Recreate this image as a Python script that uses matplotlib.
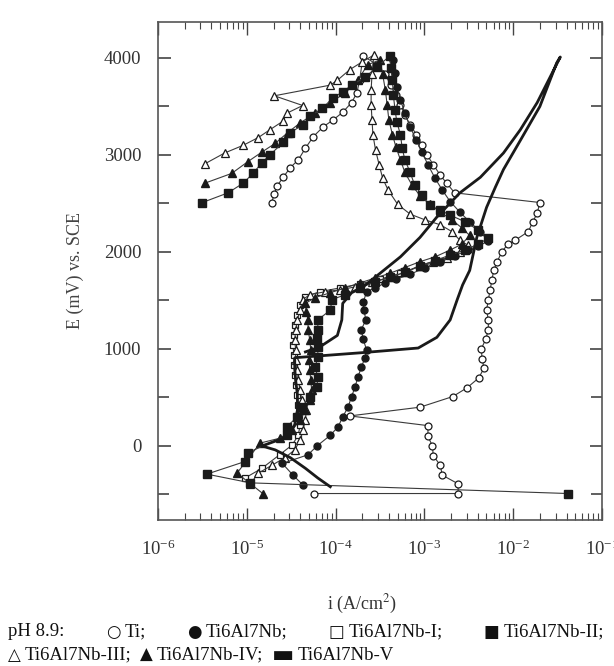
import matplotlib
matplotlib.use("Agg")
import matplotlib.pyplot as plt
import numpy as np
from matplotlib.ticker import MultipleLocator, LogLocator, LogFormatterSciNotation, NullFormatter

plt.rcParams['font.family'] = ['Liberation Serif', 'DejaVu Sans']
plt.rcParams['mathtext.fontset'] = 'stix'

# log10(i / A cm^-2) and E (mV vs SCE)
ti_logi = [-4.24, -2.62, -2.62, -2.80, -2.82, -2.90, -2.91, -2.96, -2.96, -3.84, -3.05,
           -2.68, -2.52, -2.39, -2.33, -2.35, -2.36, -2.31, -2.28, -2.28, -2.30, -2.28,
           -2.26, -2.24, -2.22, -2.18, -2.13, -2.06, -1.98, -1.83, -1.78, -1.73, -1.70,
           -2.66, -2.75, -2.82, -2.90, -2.97, -3.03, -3.09, -3.16, -3.22, -3.27, -3.32,
           -3.38, -3.44, -3.53, -3.69, -3.73, -3.76, -3.82, -3.92, -4.03, -4.14, -4.25,
           -4.34, -4.42, -4.51, -4.59, -4.66, -4.69, -4.72]
ti_E = [-490, -490, -390, -300, -200, -100, 0, 100, 210, 310, 400,
        510, 600, 700, 800, 900, 1000, 1100, 1200, 1300, 1400, 1510,
        1610, 1710, 1810, 1900, 2000, 2080, 2120, 2210, 2310, 2400, 2510,
        2610, 2710, 2790, 2900, 3000, 3100, 3210, 3310, 3410, 3520, 3620,
        3720, 3830, 3930, 4020, 3770, 3640, 3540, 3440, 3360, 3290, 3190,
        3070, 2950, 2870, 2770, 2680, 2600, 2510]

nb_logi = [-4.37, -4.48, -4.60, -4.31, -4.21, -4.06, -3.97, -3.92, -3.86, -3.82, -3.78,
           -3.75, -3.71, -3.67, -3.65, -3.69, -3.71, -3.66, -3.68, -3.69, -3.65, -3.56,
           -3.44, -3.32, -3.16, -2.99, -2.82, -2.66, -2.51, -2.40, -2.28, -2.37, -2.49,
           -2.60, -2.71, -2.80, -2.88, -2.96, -3.03, -3.09, -3.16, -3.22, -3.27, -3.31,
           -3.33, -3.35]
nb_E = [-400, -300, -180, -90, 0, 110, 200, 300, 400, 510, 610,
        710, 810, 910, 990, 1100, 1200, 1300, 1400, 1480, 1590, 1630,
        1680, 1720, 1770, 1840, 1900, 1960, 2020, 2060, 2110, 2210, 2310,
        2410, 2520, 2640, 2760, 2900, 3030, 3150, 3290, 3430, 3570, 3700,
        3850, 3980]

nb1_logi = [-5.02, -4.83, -4.63, -4.49, -4.42, -4.40, -4.41, -4.42, -4.43, -4.45, -4.46,
            -4.47, -4.47, -4.48, -4.47, -4.46, -4.43, -4.40, -4.34, -4.18, -3.95, -3.73,
            -3.50, -3.27, -3.05, -2.82, -2.66, -2.54]
nb1_E = [-330, -230, -90, 10, 110, 220, 320, 420, 530, 630, 730,
         840, 940, 1040, 1140, 1250, 1350, 1450, 1540, 1590, 1630, 1670,
         1720, 1780, 1850, 1910, 1970, 2040]

nb2_logi = [-1.38, -4.96, -5.45, -5.02, -4.99, -4.55, -4.55, -4.43, -4.38, -4.29, -4.21,
            -4.20, -4.23, -4.20, -4.20, -4.21, -4.20, -4.20, -4.06, -4.04, -3.89, -3.73,
            -3.56, -3.39, -3.22, -3.05, -2.88, -2.71, -2.54, -2.40, -2.28, -2.40, -2.54,
            -2.71, -2.82, -2.94, -3.03, -3.11, -3.16, -3.22, -3.25, -3.27, -3.31, -3.33,
            -3.35, -3.36, -3.38, -3.39, -3.53, -3.67, -3.82, -3.92, -4.03, -4.15, -4.29,
            -4.37, -4.51, -4.59, -4.74, -4.83, -4.93, -5.04, -5.21, -5.50]
nb2_E = [-490, -380, -290, -160, -70, 110, 200, 300, 400, 510, 610,
         710, 810, 920, 1020, 1110, 1200, 1300, 1400, 1510, 1560, 1630,
         1690, 1740, 1790, 1860, 1910, 1970, 2020, 2080, 2140, 2230, 2310,
         2380, 2430, 2480, 2590, 2690, 2820, 2950, 3070, 3210, 3340, 3460,
         3620, 3770, 3900, 4020, 3910, 3800, 3720, 3650, 3590, 3480, 3400,
         3310, 3230, 3130, 3000, 2920, 2810, 2710, 2610, 2510]

nb3_logi = [-4.96, -4.87, -4.72, -4.57, -4.46, -4.40, -4.37, -4.34, -4.33, -4.38, -4.40,
            -4.42, -4.43, -4.45, -4.45, -4.46, -4.45, -4.43, -4.40, -4.37, -4.29, -4.12,
            -3.95, -3.78, -3.59, -3.39, -3.22, -3.05, -2.90, -2.75, -2.60, -2.51, -2.60,
            -2.69, -2.82, -2.99, -3.16, -3.30, -3.41, -3.47, -3.51, -3.55, -3.58, -3.59,
            -3.60, -3.60, -3.59, -3.57, -3.70, -3.84, -3.98, -4.06, -4.69, -4.37, -4.55,
            -4.59, -4.74, -4.87, -5.04, -5.25, -5.47]
nb3_E = [-390, -280, -200, -120, -40, 60, 160, 270, 370, 470, 580,
         680, 780, 890, 990, 1090, 1200, 1300, 1400, 1510, 1560, 1590,
         1610, 1640, 1690, 1740, 1790, 1860, 1900, 1940, 2000, 2070, 2120,
         2210, 2280, 2330, 2390, 2490, 2640, 2760, 2900, 3050, 3210, 3360,
         3520, 3670, 3830, 4030, 3960, 3880, 3770, 3720, 3610, 3510, 3430,
         3350, 3260, 3180, 3100, 3020, 2910]

nb4_logi = [-4.82, -5.11, -4.85, -4.63, -4.49, -4.40, -4.34, -4.29, -4.27, -4.28, -4.29,
            -4.30, -4.28, -4.29, -4.31, -4.31, -4.33, -4.34, -4.23, -4.06, -3.89, -3.73,
            -3.56, -3.39, -3.22, -3.05, -2.88, -2.71, -2.58, -2.49, -2.58, -2.69, -2.82,
            -2.94, -3.05, -3.14, -3.22, -3.27, -3.32, -3.36, -3.40, -3.42, -3.44, -3.47,
            -3.50, -3.64, -3.75, -3.89, -4.06, -4.23, -4.40, -4.54, -4.68, -4.83, -4.99,
            -5.17, -5.47]
nb4_E = [-490, -280, 30, 80, 160, 270, 370, 470, 580, 680, 780,
         890, 990, 1090, 1200, 1300, 1380, 1470, 1530, 1580, 1630, 1680,
         1730, 1780, 1840, 1900, 1950, 2020, 2080, 2170, 2250, 2330, 2410,
         2490, 2580, 2690, 2820, 2950, 3080, 3210, 3360, 3520, 3670, 3830,
         3980, 3930, 3770, 3640, 3540, 3430, 3330, 3230, 3120, 3030, 2930,
         2810, 2710]

nb5_logi = [-4.06, -4.20, -4.34, -4.51, -4.68, -4.83, -4.68, -4.54, -4.46, -4.43, -4.43,
            -4.45, -4.46, -4.46, -3.73, -3.07, -2.86, -2.71, -2.63, -2.57, -2.49, -2.41,
            -2.30, -2.20, -2.11, -1.92, -1.70, -1.51, -1.47, -1.73, -1.92, -2.11, -2.37,
            -2.60, -2.86, -3.05, -3.27, -3.50, -3.69, -3.82, -3.92, -3.93, -3.98, -4.18,
            -4.34]
nb5_E = [-420, -330, -230, -120, -40, 0, 50, 100, 220, 370, 530,
         680, 800, 910, 960, 1010, 1120, 1300, 1510, 1660, 1810, 2150,
         2460, 2670, 2850, 3150, 3500, 3950, 4010, 3540, 3260, 3020, 2770,
         2610, 2360, 2150, 1950, 1780, 1640, 1580, 1470, 1300, 1140, 1020,
         970]

legend_row1 = [("", "pH 8.9:"), ("\u25cb", "Ti;"), ("\u25cf", "Ti6Al7Nb;"),
               ("\u25a1", "Ti6Al7Nb-I;"), ("\u25a0", "Ti6Al7Nb-II;")]
legend_row2 = [("\u25b3", "Ti6Al7Nb-III;"), ("\u25b2", "Ti6Al7Nb-IV;"),
               ("\u25ac", "Ti6Al7Nb-V")]

fig = plt.figure(figsize=(6.14, 6.66), dpi=100)
ax = fig.add_axes([0.2573, 0.2192, 0.7232, 0.7478])

ink = '#1a1a1a'
line_kw = dict(color='#3a3a3a', lw=0.8)

def curve(logi, E, **kw):
    ax.plot(10 ** np.array(logi), E, **line_kw)
    ax.plot(10 ** np.array(logi), E, ls='none', **kw)

curve(ti_logi, ti_E, marker='o', ms=5, mfc='white', mec=ink, mew=0.9)
curve(nb1_logi, nb1_E, marker='s', ms=4.5, mfc='white', mec=ink, mew=0.9)
curve(nb3_logi, nb3_E, marker='^', ms=5.5, mfc='white', mec=ink, mew=0.9)
curve(nb_logi, nb_E, marker='o', ms=5, mfc=ink, mec=ink)
curve(nb4_logi, nb4_E, marker='^', ms=5.5, mfc=ink, mec=ink)
curve(nb2_logi, nb2_E, marker='s', ms=5.5, mfc=ink, mec=ink)
ax.plot(10 ** np.array(nb5_logi), nb5_E, color=ink, lw=2.0)

ax.set_xscale('log')
ax.set_xlim(1e-6, 1e-1)
ax.set_ylim(-763, 4371)

ax.xaxis.set_major_locator(LogLocator(base=10, numticks=10))
ax.xaxis.set_minor_locator(LogLocator(base=10, subs=np.arange(2, 10), numticks=20))
ax.xaxis.set_major_formatter(LogFormatterSciNotation())
ax.xaxis.set_minor_formatter(NullFormatter())
ax.yaxis.set_major_locator(MultipleLocator(1000))
ax.yaxis.set_minor_locator(MultipleLocator(500))

ax.tick_params(which='both', direction='in', top=True, right=True, colors='#444444',
               labelcolor='#333333', labelsize=13.5)
ax.tick_params(axis='x', which='major', length=9, width=1.0, pad=14)
ax.tick_params(axis='x', which='minor', length=5, width=0.8)
ax.tick_params(axis='y', which='major', length=9, width=1.2, pad=12)
ax.tick_params(axis='y', which='minor', length=8, width=1.2)
for s in ax.spines.values():
    s.set_color('#555555')
    s.set_linewidth(1.2)

ax.set_xlabel('i (A/cm$^{2}$)', fontsize=13, color='#333333')
ax.xaxis.set_label_coords(0.46, -0.147)
ax.set_ylabel('E (mV) vs. SCE', fontsize=13, color='#444444', labelpad=14)

# caption-style legend under the chart, spread to the reference widths
W, H = fig.get_size_inches() * fig.dpi
renderer = fig.canvas.get_renderer()

def legend_row(items, y_px, x0, x1):
    texts = []
    for sym, lab in items:
        pair = []
        if sym:
            size = 17 if sym == "\u25ac" else 12
            pair.append(fig.text(0, 1 - y_px / H, sym, fontsize=size, color='#111111',
                                 va='center', family='DejaVu Sans'))
        pair.append(fig.text(0, 1 - y_px / H, lab, fontsize=13.5, color='#111111', va='center'))
        texts.append(pair)
    widths = [[t.get_window_extent(renderer).width for t in pair] for pair in texts]
    sym_gap = 4
    total = sum(sum(w) + sym_gap * (len(w) - 1) for w in widths)
    gap = max((x1 - x0 - total) / (len(items) - 1), 6)
    x = x0
    for pair, w in zip(texts, widths):
        for t, wi in zip(pair, w):
            t.set_x(x / W)
            x += wi + sym_gap
        x += gap - sym_gap

legend_row(legend_row1, 632, 8, 604)
legend_row(legend_row2, 655, 8, 394)

fig.savefig('out.png', dpi=100)
